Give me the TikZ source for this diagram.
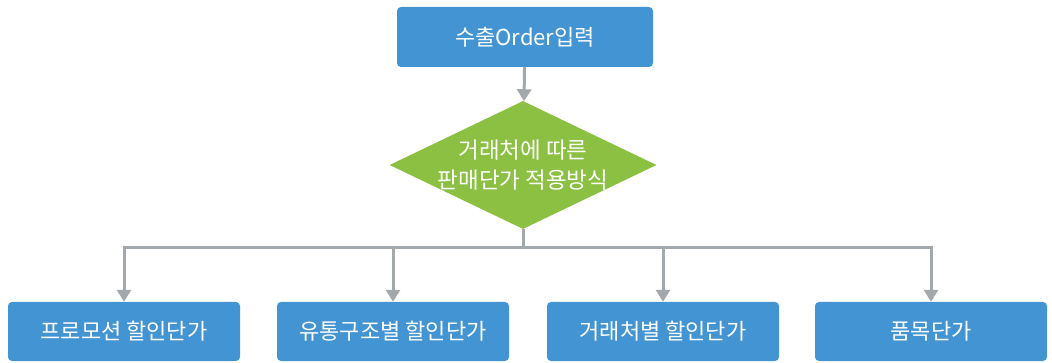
\documentclass[tikz,border=0pt]{standalone}
\usepackage{fontspec}
\setmainfont{Noto Sans CJK KR}
\usetikzlibrary{shapes.geometric,arrows.meta}
\definecolor{boxblue}{RGB}{67,148,210}
\definecolor{dgreen}{RGB}{139,192,67}
\definecolor{lgrey}{RGB}{163,168,173}
\tikzset{
	box/.style={draw=none, fill=boxblue, rounded corners=4pt, minimum width=232pt, minimum height=59pt, text=white, font=\fontsize{22}{26}\selectfont},
	choice/.style={diamond, fill=dgreen, inner sep=-4pt, aspect=2.08, minimum width=267pt, minimum height=128pt, text=white, align=center, font=\fontsize{22.5}{30}\selectfont},
	pfeil/.style={draw=lgrey, line width=3pt, -{Triangle[width=14pt,length=12pt]}}
}
\begin{document}
\begin{tikzpicture}[x=1pt, y=-1pt]
\useasboundingbox (0,0) rectangle (1052,363);
% oben
	\node [box, minimum width=256pt, minimum height=60pt] (order) at (525,37) {수출Order입력};
	\node [choice] (method) at (523,165) {거래처에 따른\\판매단가 적용방식};
	\draw [pfeil] (order) -- (method);
% unten
	\node [box] (promo) at (124,331.5) {프로모션 할인단가};
	\node [box] (channel) at (393,331.5) {유통구조별 할인단가};
	\node [box] (client) at (663,331.5) {거래처별 할인단가};
	\node [box] (item) at (931,331.5) {품목단가};
% Linien
	\coordinate (split) at (523,248);
	\draw [draw=lgrey, line width=3pt] (method.south) -- (split);
	\draw [pfeil] (split) -| (promo.north);
	\draw [pfeil] (split) -| (channel.north);
	\draw [pfeil] (split) -| (client.north);
	\draw [pfeil] (split) -| (item.north);
\end{tikzpicture}
\end{document}
